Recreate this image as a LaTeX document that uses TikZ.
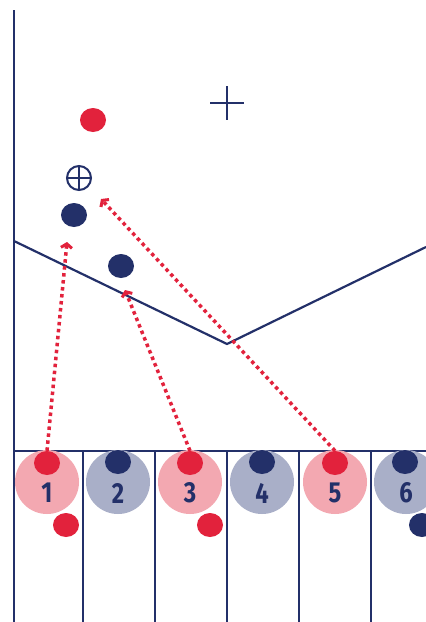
\documentclass[tikz,border=0pt]{standalone}
\usepackage{fontspec}
\setsansfont{Fira Sans}
\usetikzlibrary{arrows.meta,shapes.geometric}
\definecolor{navy}{HTML}{233069}
\definecolor{redc}{HTML}{E2223C}
\definecolor{pinkc}{HTML}{F3A8B1}
\definecolor{grayc}{HTML}{A9AFC8}
\begin{document}
\begin{tikzpicture}[x=1pt,y=-1pt,
  navyline/.style={draw=navy,line width=2.2pt},
  bigpink/.style={circle,fill=pinkc,minimum size=64pt,inner sep=0pt},
  biggray/.style={circle,fill=grayc,minimum size=64pt,inner sep=0pt},
  reddot/.style={ellipse,fill=redc,minimum width=26pt,minimum height=24pt,inner sep=0pt},
  navydot/.style={ellipse,fill=navy,minimum width=26pt,minimum height=24pt,inner sep=0pt},
  num/.style={text=navy,font=\sffamily\bfseries\fontsize{29}{29}\selectfont,inner sep=0pt},
  pass/.style={draw=redc,line width=3.5pt,dash pattern=on 3.5pt off 3.5pt,-{Straight Barb[length=4pt,width=11pt,line width=3pt]}}
]
\useasboundingbox (0,0) rectangle (426,622);
\fill[white] (0,0) rectangle (426,622);
% frame lines
\coordinate (lt) at (14,10);
\coordinate (lb) at (14,622);
\coordinate (hl) at (14,451);
\coordinate (hr) at (426,451);
\draw[navyline] (lt) -- (lb);
\draw[navyline] (hl) -- (hr);
\foreach \x/\n in {83/a,155/b,227/c,299/d,371/e}{
  \coordinate (d\n t) at (\x,451);
  \coordinate (d\n b) at (\x,622);
  \draw[navyline] (d\n t) -- (d\n b);
}
% V line
\coordinate (v1) at (14,241);
\coordinate (v2) at (227,344);
\coordinate (v3) at (426,247);
\draw[navyline,line join=miter] (v1) -- (v2) -- (v3);
% cross
\coordinate (cl) at (210,103);
\coordinate (cr) at (244,103);
\coordinate (ct) at (227,86);
\coordinate (cb) at (227,120);
\draw[navyline] (cl) -- (cr);
\draw[navyline] (ct) -- (cb);
% big circles
\node[bigpink] (c1) at (47,482) {};
\node[biggray] (c2) at (118,482) {};
\node[bigpink] (c3) at (190,482) {};
\node[biggray] (c4) at (262,482) {};
\node[bigpink] (c5) at (335,482) {};
\node[biggray] (c6) at (406,482) {};
\foreach \i/\x in {1/47,2/118,3/190,4/262,5/335,6/406}{
  \node[num] (n\i) at (\x,493) {\scalebox{0.82}[1]{\i}};
}
% dots on circles
\node[reddot] (t1) at (47,463) {};
\node[navydot] (t2) at (118,462) {};
\node[reddot] (t3) at (190,463) {};
\node[navydot] (t4) at (262,462) {};
\node[reddot] (t5) at (335,463) {};
\node[navydot] (t6) at (405,462) {};
% dots below
\node[reddot] (b1) at (66,525) {};
\node[reddot] (b3) at (210,525) {};
\node[navydot] (b6) at (422,525) {};
% upper dots
\node[reddot] (u1) at (93,120) {};
\node[circle,draw=navy,line width=2pt,minimum size=24pt,inner sep=0pt] (ball) at (79,178) {};
\draw[navy,line width=2pt] (ball.north) -- (ball.south);
\draw[navy,line width=2pt] (ball.west) -- (ball.east);
\node[navydot] (u2) at (74,215) {};
\node[navydot] (u3) at (121,266) {};
% passes
\coordinate (p1) at (67,242);
\coordinate (p2) at (125,290);
\coordinate (p3) at (101,199);
\draw[pass] (t1.north) -- (p1);
\draw[pass] (t3.north) -- (p2);
\draw[pass] (t5.north) -- (p3);
\end{tikzpicture}
\end{document}
